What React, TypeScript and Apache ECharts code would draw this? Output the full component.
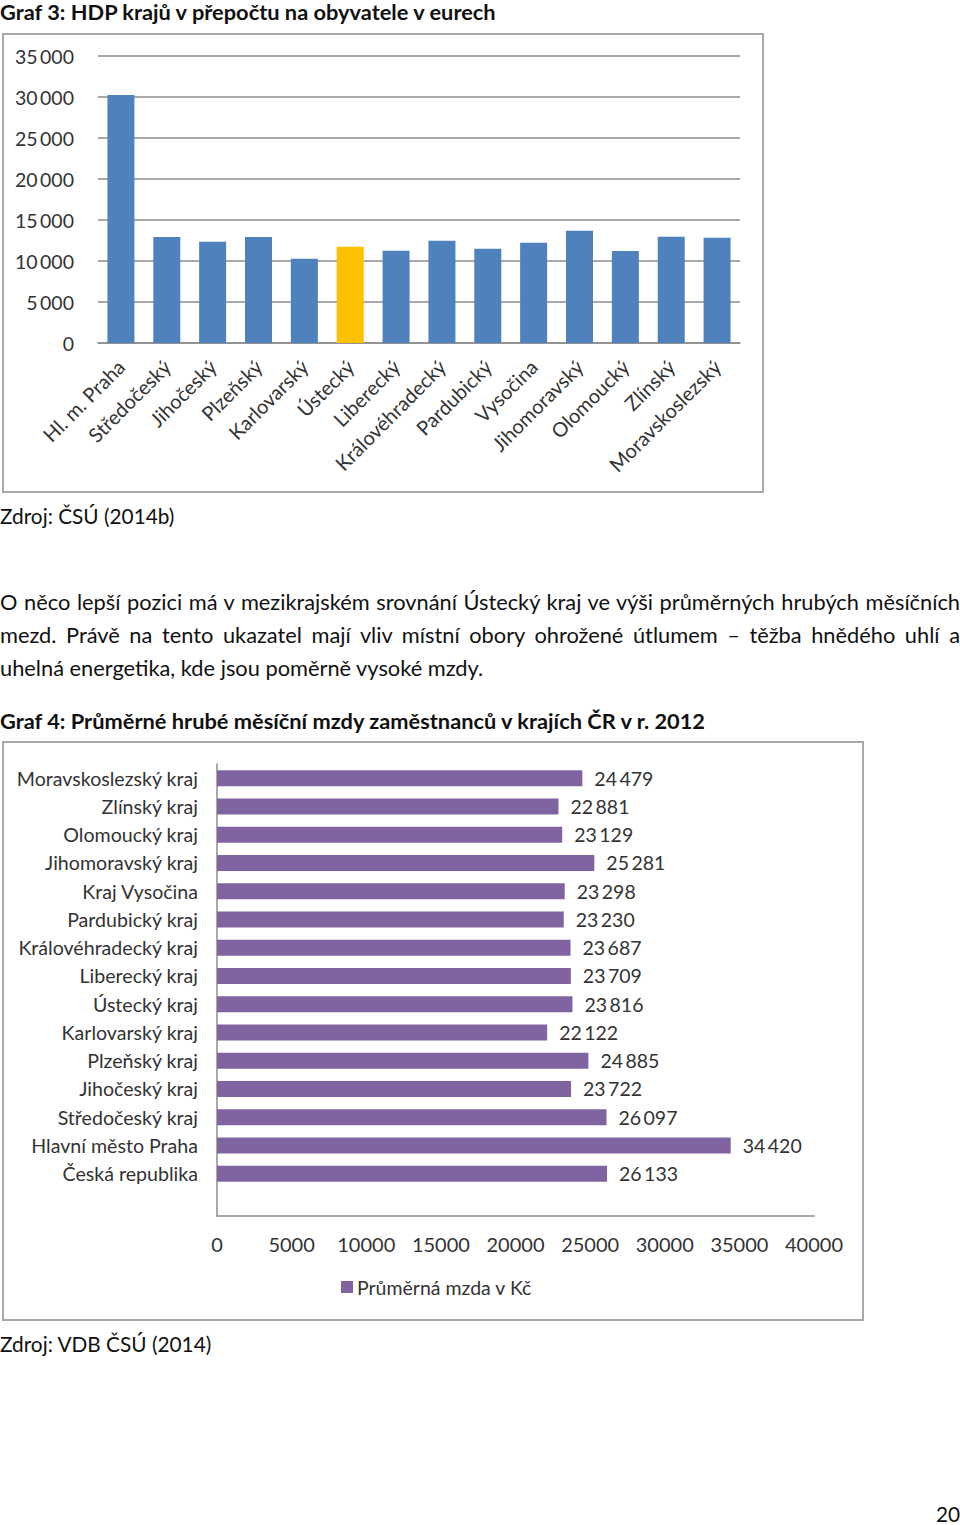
import React, { useEffect, useRef } from "react";
import * as echarts from "echarts";

const FONT = "Lato, 'Open Sans', sans-serif";

// Graf 3
const regions1 = ["Hl. m. Praha", "Středočeský", "Jihočeský", "Plzeňský", "Karlovarský", "Ústecký", "Liberecký", "Královéhradecký", "Pardubický", "Vysočina", "Jihomoravský", "Olomoucký", "Zlínský", "Moravskoslezský"];
const gdpPerCapita = [30240, 12940, 12340, 12940, 10280, 11730, 11250, 12480, 11500, 12230, 13700, 11230, 12960, 12840];
const highlighted1 = "Ústecký";
const yTicks1 = { min: 0, max: 35000, interval: 5000 };

// Graf 4 (first category drawn at the bottom)
const regions2 = ["", "Česká republika", "Hlavní město Praha", "Středočeský kraj", "Jihočeský kraj", "Plzeňský kraj", "Karlovarský kraj", "Ústecký kraj", "Liberecký kraj", "Královéhradecký kraj", "Pardubický kraj", "Kraj Vysočina", "Jihomoravský kraj", "Olomoucký kraj", "Zlínský kraj", "Moravskoslezský kraj"];
const wages = [null, 26133, 34420, 26097, 23722, 24885, 22122, 23816, 23709, 23687, 23230, 23298, 25281, 23129, 22881, 24479];
const xTicks2 = { min: 0, max: 40000, interval: 5000 };
const seriesName2 = "Průměrná mzda v Kč";

const fmt = (v: number) => String(v).replace(/\B(?=(\d{3})+(?!\d))/g, "\u2009");

function Chart({ option, style }: { option: any; style: React.CSSProperties }) {
  const ref = useRef<HTMLDivElement>(null);
  useEffect(() => {
    const chart = echarts.init(ref.current!, null, { renderer: "svg" });
    chart.setOption(option);
    return () => chart.dispose();
  }, []);
  return <div ref={ref} style={style} />;
}

const option1 = {
  animation: false,
  grid: { left: 96, top: 23, width: 642, height: 287, containLabel: false },
  xAxis: {
    type: "category",
    data: regions1,
    axisLine: { lineStyle: { color: "#8c8c8c", width: 1.5 } },
    axisTick: { show: false },
    axisLabel: { rotate: 45, margin: 20, fontSize: 20, color: "#333", fontFamily: FONT, interval: 0 },
  },
  yAxis: {
    type: "value",
    min: yTicks1.min,
    max: yTicks1.max,
    interval: yTicks1.interval,
    axisLine: { show: false },
    axisTick: { show: false },
    splitLine: { lineStyle: { color: "#8c8c8c", width: 1.5 } },
    axisLabel: { margin: 24, fontSize: 19.5, color: "#333", fontFamily: FONT, formatter: (v: number) => fmt(v) },
  },
  series: [
    {
      type: "bar",
      barWidth: 27,
      data: gdpPerCapita.map((v, i) => ({
        value: v,
        itemStyle: { color: regions1[i] === highlighted1 ? "#FFC000" : "#4F81BD" },
      })),
    },
  ],
};

const option2 = {
  animation: false,
  grid: { left: 215, top: 23, width: 597, height: 452, containLabel: false },
  legend: {
    left: 339,
    top: 536,
    padding: 0,
    itemWidth: 12,
    itemHeight: 12,
    itemGap: 4,
    icon: "rect",
    data: [seriesName2],
    textStyle: { fontSize: 19.5, color: "#333", fontFamily: FONT, padding: [0, 0, 0, -1] },
  },
  xAxis: {
    type: "value",
    min: xTicks2.min,
    max: xTicks2.max,
    interval: xTicks2.interval,
    axisLine: { show: true, lineStyle: { color: "#8c8c8c", width: 1.5 } },
    axisTick: { show: false },
    splitLine: { show: false },
    axisLabel: { margin: 18, fontSize: 20, color: "#333", fontFamily: FONT, formatter: (v: number) => String(v) },
  },
  yAxis: {
    type: "category",
    data: regions2,
    axisLine: { lineStyle: { color: "#8c8c8c", width: 1.5 } },
    axisTick: { show: false },
    axisLabel: { margin: 19, fontSize: 19.6, color: "#333", fontFamily: FONT, interval: 0 },
  },
  series: [
    {
      name: seriesName2,
      type: "bar",
      barWidth: 16,
      itemStyle: { color: "#8064A2" },
      label: {
        show: true,
        position: "right",
        distance: 12,
        fontSize: 19.5,
        color: "#333",
        fontFamily: FONT,
        formatter: (p: any) => fmt(p.value),
      },
      data: wages,
    },
  ],
};

const textBase: React.CSSProperties = {
  position: "absolute",
  left: 0,
  fontFamily: FONT,
  fontSize: 21.8,
  lineHeight: "24px",
  color: "#111",
  whiteSpace: "nowrap",
};

const source: React.CSSProperties = { ...textBase, fontSize: 20.8 };

const justified: React.CSSProperties = {
  ...textBase,
  width: 960,
  textAlign: "justify",
  textAlignLast: "justify" as any,
  whiteSpace: "normal",
};

export default function App() {
  return (
    <div style={{ position: "absolute", left: 0, top: 0, width: 960, height: 1525, background: "#fff" }}>
      <div style={{ ...textBase, top: 0, lineHeight: "23px", fontWeight: 700 }}>Graf 3: HDP krajů v přepočtu na obyvatele v eurech</div>

      <Chart option={option1} style={{ position: "absolute", left: 2, top: 33, width: 762, height: 460 }} />
      <div style={{ position: "absolute", left: 2, top: 33, width: 762, height: 460, boxSizing: "border-box", border: "2px solid #a8a8a8", pointerEvents: "none" }} />

      <div style={{ ...source, top: 504 }}>Zdroj: ČSÚ (2014b)</div>

      <div style={{ ...justified, top: 590 }}>O něco lepší pozici má v mezikrajském srovnání Ústecký kraj ve výši průměrných hrubých měsíčních</div>
      <div style={{ ...justified, top: 623 }}>mezd. Právě na tento ukazatel mají vliv místní obory ohrožené útlumem – těžba hnědého uhlí a</div>
      <div style={{ ...textBase, top: 656 }}>uhelná energetika, kde jsou poměrně vysoké mzdy.</div>

      <div style={{ ...textBase, top: 709, fontWeight: 700 }}>Graf 4: Průměrné hrubé měsíční mzdy zaměstnanců v krajích ČR v r. 2012</div>

      <Chart option={option2} style={{ position: "absolute", left: 2, top: 741, width: 862, height: 580 }} />
      <div style={{ position: "absolute", left: 2, top: 741, width: 862, height: 580, boxSizing: "border-box", border: "2px solid #a8a8a8", pointerEvents: "none" }} />

      <div style={{ ...source, top: 1332 }}>Zdroj: VDB ČSÚ (2014)</div>

      <div style={{ ...source, left: "auto", right: 0, top: 1502 }}>20</div>
    </div>
  );
}
